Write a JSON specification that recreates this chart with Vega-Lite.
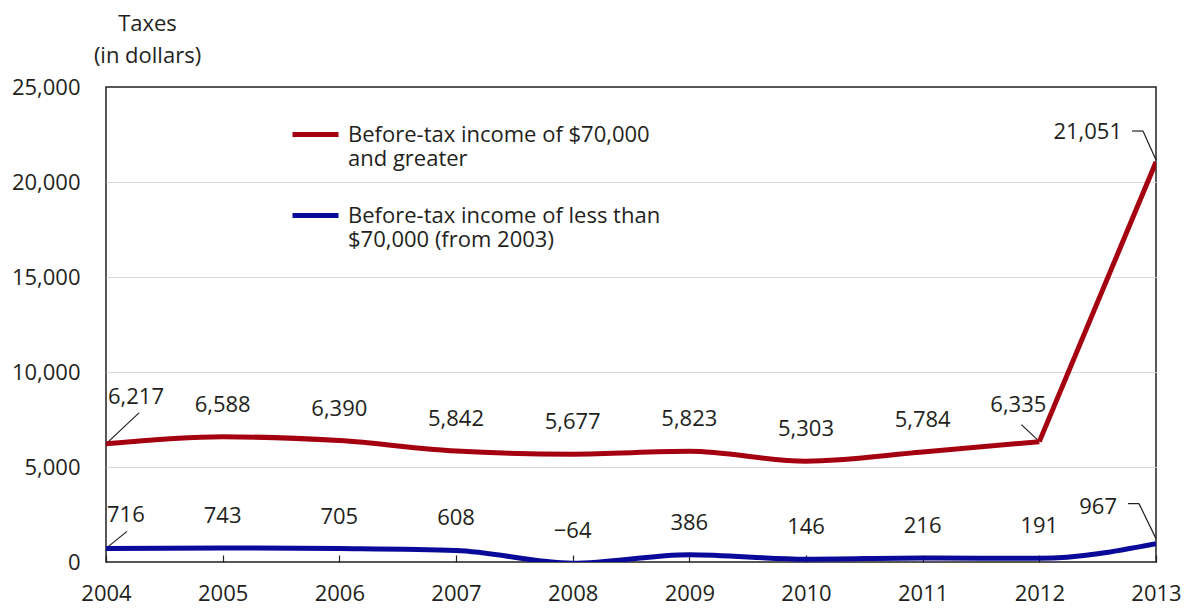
{
  "$schema": "https://vega.github.io/schema/vega-lite/v6.json",
  "width": 1050,
  "height": 475,
  "autosize": {"type": "none"},
  "padding": {"left": 106, "top": 87, "right": 32, "bottom": 46},
  "background": "white",
  "config": {
    "view": {"stroke": "#231f20", "strokeWidth": 1.5},
    "font": "Open Sans",
    "text": {"font": "Open Sans", "fontSize": 22, "color": "#231f20"},
    "axis": {"labelFont": "Open Sans", "labelFontSize": 22, "labelColor": "#231f20", "titleFont": "Open Sans", "titleFontSize": 22, "titleColor": "#231f20", "titleFontWeight": "normal"},
    "legend": {"labelFont": "Open Sans", "labelFontSize": 22, "labelColor": "#231f20"}
  },
  "data": {
    "values": [
      {"year": 2004, "group": "high", "series": "Before-tax income of $70,000 and greater", "value": 6217},
      {"year": 2005, "group": "high", "series": "Before-tax income of $70,000 and greater", "value": 6588},
      {"year": 2006, "group": "high", "series": "Before-tax income of $70,000 and greater", "value": 6390},
      {"year": 2007, "group": "high", "series": "Before-tax income of $70,000 and greater", "value": 5842},
      {"year": 2008, "group": "high", "series": "Before-tax income of $70,000 and greater", "value": 5677},
      {"year": 2009, "group": "high", "series": "Before-tax income of $70,000 and greater", "value": 5823},
      {"year": 2010, "group": "high", "series": "Before-tax income of $70,000 and greater", "value": 5303},
      {"year": 2011, "group": "high", "series": "Before-tax income of $70,000 and greater", "value": 5784},
      {"year": 2012, "group": "high", "series": "Before-tax income of $70,000 and greater", "value": 6335},
      {"year": 2013, "group": "high", "series": "Before-tax income of $70,000 and greater", "value": 21051},
      {"year": 2004, "group": "low", "series": "Before-tax income of less than $70,000 (from 2003)", "value": 716},
      {"year": 2005, "group": "low", "series": "Before-tax income of less than $70,000 (from 2003)", "value": 743},
      {"year": 2006, "group": "low", "series": "Before-tax income of less than $70,000 (from 2003)", "value": 705},
      {"year": 2007, "group": "low", "series": "Before-tax income of less than $70,000 (from 2003)", "value": 608},
      {"year": 2008, "group": "low", "series": "Before-tax income of less than $70,000 (from 2003)", "value": -64},
      {"year": 2009, "group": "low", "series": "Before-tax income of less than $70,000 (from 2003)", "value": 386},
      {"year": 2010, "group": "low", "series": "Before-tax income of less than $70,000 (from 2003)", "value": 146},
      {"year": 2011, "group": "low", "series": "Before-tax income of less than $70,000 (from 2003)", "value": 216},
      {"year": 2012, "group": "low", "series": "Before-tax income of less than $70,000 (from 2003)", "value": 191},
      {"year": 2013, "group": "low", "series": "Before-tax income of less than $70,000 (from 2003)", "value": 967}
    ]
  },
  "encoding": {
    "x": {
      "field": "year", "type": "quantitative",
      "scale": {"domain": [2004, 2013], "nice": false, "zero": false},
      "axis": {
        "title": null, "values": [2004, 2005, 2006, 2007, 2008, 2009, 2010, 2011, 2012, 2013],
        "format": "d", "grid": false, "domain": false, "ticks": true, "tickSize": -7,
        "tickColor": "#231f20", "tickWidth": 1.2, "labelPadding": 28, "labelFlush": false
      }
    },
    "y": {
      "field": "value", "type": "quantitative",
      "scale": {"domain": [0, 25000], "nice": false},
      "axis": {
        "values": [0, 5000, 10000, 15000, 20000, 25000], "format": ",d",
        "grid": true, "gridColor": "#d9d9d9", "gridWidth": 1.2,
        "gridOpacity": {"condition": {"test": "datum.value == 0 || datum.value == 25000", "value": 0}, "value": 1},
        "ticks": false, "domain": false, "labelPadding": 26,
        "title": ["Taxes", "(in dollars)"], "titleAngle": 0, "titleAlign": "center",
        "titleBaseline": "alphabetic", "titleX": 41, "titleY": -57, "titleLineHeight": 32
      }
    }
  },
  "layer": [
    {
      "transform": [{"filter": "(datum.year == 2004 || datum.year == 2013) || (datum.year == 2012 && datum.group == 'high')"}],
      "layer": [
        {"transform": [{"filter": "datum.year == 2004 && datum.group == 'high'"}], "mark": {"type": "rule", "color": "#231f20", "strokeWidth": 1.2, "x2Offset": 33, "y2Offset": -31}, "encoding": {"x2": {"field": "year"}, "y2": {"field": "value"}}},
        {"transform": [{"filter": "datum.year == 2004 && datum.group == 'low'"}], "mark": {"type": "rule", "color": "#231f20", "strokeWidth": 1.2, "x2Offset": 21, "y2Offset": -17}, "encoding": {"x2": {"field": "year"}, "y2": {"field": "value"}}},
        {"transform": [{"filter": "datum.year == 2012 && datum.group == 'high'"}], "mark": {"type": "rule", "color": "#231f20", "strokeWidth": 1.2, "xOffset": -2, "yOffset": -2, "x2Offset": -18, "y2Offset": -17}, "encoding": {"x2": {"field": "year"}, "y2": {"field": "value"}}},
        {"transform": [{"filter": "datum.year == 2013 && datum.group == 'high'"}], "mark": {"type": "rule", "color": "#231f20", "strokeWidth": 1.2, "yOffset": -2, "x2Offset": -13, "y2Offset": -31}, "encoding": {"x2": {"field": "year"}, "y2": {"field": "value"}}},
        {"transform": [{"filter": "datum.year == 2013 && datum.group == 'high'"}], "mark": {"type": "rule", "color": "#231f20", "strokeWidth": 1.2, "xOffset": -13, "yOffset": -31, "x2Offset": -24, "y2Offset": -31}, "encoding": {"x2": {"field": "year"}, "y2": {"field": "value"}}},
        {"transform": [{"filter": "datum.year == 2013 && datum.group == 'low'"}], "mark": {"type": "rule", "color": "#231f20", "strokeWidth": 1.2, "yOffset": -5, "x2Offset": -17, "y2Offset": -40}, "encoding": {"x2": {"field": "year"}, "y2": {"field": "value"}}},
        {"transform": [{"filter": "datum.year == 2013 && datum.group == 'low'"}], "mark": {"type": "rule", "color": "#231f20", "strokeWidth": 1.2, "xOffset": -17, "yOffset": -40, "x2Offset": -28, "y2Offset": -40}, "encoding": {"x2": {"field": "year"}, "y2": {"field": "value"}}}
      ]
    },
    {
      "encoding": {
        "color": {
          "field": "series", "type": "nominal",
          "scale": {"domain": ["Before-tax income of $70,000 and greater", "Before-tax income of less than $70,000 (from 2003)"], "range": ["#a50010", "#0a0a9a"]},
          "legend": {
            "title": null, "orient": "none", "legendX": 184, "legendY": 22, "padding": 0,
            "symbolType": "stroke", "symbolSize": 2116, "symbolStrokeWidth": 5,
            "labelOffset": 7, "labelLimit": 500, "labelBaseline": "middle", "labelLineHeight": 28,
            "rowPadding": 20,
            "labelExpr": "indexof(datum.label, 'greater') >= 0 ? ['Before-tax income of $70,000', 'and greater'] : ['Before-tax income of less than', '$70,000 (from 2003)']"
          }
        }
      },
      "layer": [
        {
          "transform": [{"filter": "datum.group == 'low' || datum.year <= 2012"}],
          "mark": {"type": "line", "strokeWidth": 5, "interpolate": "monotone", "clip": true}
        },
        {
          "transform": [{"filter": "datum.group == 'high' && datum.year >= 2012"}],
          "mark": {"type": "line", "strokeWidth": 5, "interpolate": "linear", "clip": true}
        }
      ]
    },
    {
      "transform": [{"filter": "datum.year > 2004 && datum.year < 2013 && !(datum.year == 2012 && datum.group == 'high')"}],
      "mark": {"type": "text", "baseline": "middle", "align": "center", "dy": -32},
      "encoding": {"text": {"field": "value", "type": "quantitative", "format": ","}}
    },
    {
      "transform": [{"filter": "datum.year == 2004 && datum.group == 'high'"}],
      "mark": {"type": "text", "baseline": "middle", "align": "left", "dx": 2, "dy": -47},
      "encoding": {"text": {"field": "value", "type": "quantitative", "format": ","}}
    },
    {
      "transform": [{"filter": "datum.year == 2004 && datum.group == 'low'"}],
      "mark": {"type": "text", "baseline": "middle", "align": "left", "dx": 1, "dy": -33},
      "encoding": {"text": {"field": "value", "type": "quantitative", "format": ","}}
    },
    {
      "transform": [{"filter": "datum.year == 2012 && datum.group == 'high'"}],
      "mark": {"type": "text", "baseline": "middle", "align": "center", "dx": -21, "dy": -37},
      "encoding": {"text": {"field": "value", "type": "quantitative", "format": ","}}
    },
    {
      "transform": [{"filter": "datum.year == 2013 && datum.group == 'high'"}],
      "mark": {"type": "text", "baseline": "middle", "align": "right", "dx": -34, "dy": -30},
      "encoding": {"text": {"field": "value", "type": "quantitative", "format": ","}}
    },
    {
      "transform": [{"filter": "datum.year == 2013 && datum.group == 'low'"}],
      "mark": {"type": "text", "baseline": "middle", "align": "right", "dx": -39, "dy": -37},
      "encoding": {"text": {"field": "value", "type": "quantitative", "format": ","}}
    }
  ]
}
